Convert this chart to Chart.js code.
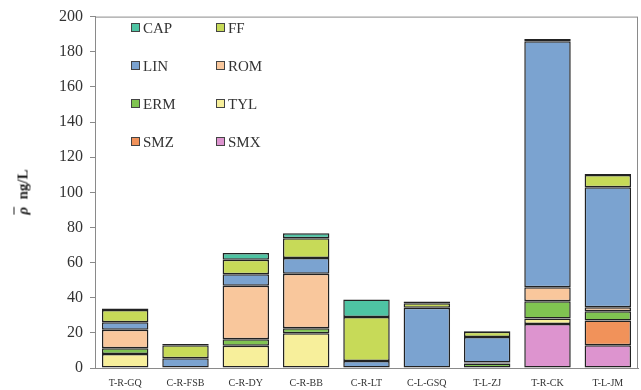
<!DOCTYPE html>
<html>
<head>
<meta charset="utf-8">
<script src="https://cdn.jsdelivr.net/npm/chart.js@4.4.1/dist/chart.umd.min.js"></script>
<style>
  html, body { margin: 0; padding: 0; background: #fff; }
  #wrap { position: relative; width: 641px; height: 390px; }
  #ytitle {
    position: absolute; left: 23px; top: 192px;
    transform: translate(-50%, -50%) rotate(-90deg);
    font-family: "Liberation Serif", serif; font-weight: bold; font-size: 15px;
    color: #222; white-space: nowrap;
  }
  #ytitle i { text-decoration: overline; }
  #legend { position: absolute; left: 131px; top: 20px; font-family: "Liberation Serif", serif; font-size: 15px; color: #333; }
  .item { position: absolute; white-space: nowrap; line-height: 16px; }
  .box { display: inline-block; width: 7px; height: 7px; border: 1px solid #444; margin-right: 3px; vertical-align: 1px; }
</style>
</head>
<body>
<div id="wrap">
  <canvas id="chart" width="641" height="390"></canvas>
  <div id="ytitle"><i>ρ</i>&nbsp; ng/L</div>
  <div id="legend"></div>
</div>
<script>
const sites = ['T-R-GQ', 'C-R-FSB', 'C-R-DY', 'C-R-BB', 'C-R-LT', 'C-L-GSQ', 'T-L-ZJ', 'T-R-CK', 'T-L-JM'];

// stacked bottom -> top
const SMX = [0, 0, 0, 0, 0, 0, 0, 25, 13];
const SMZ = [0, 0, 0, 0, 0, 0, 0, 0, 14];
const TYL = [8, 0, 12.7, 19.8, 0, 0, 0, 3.2, 0];
const ERM = [3.3, 0, 3.6, 2.8, 0, 0, 2.6, 9.8, 5.3];
const ROM = [10.5, 0, 30.5, 31, 0, 0, 0.6, 8, 2.3];
const LIN = [4.2, 5.5, 6.5, 9, 4, 34.3, 14.5, 140, 68.3];
const FF = [7, 7.5, 8.3, 11.3, 25, 2.5, 3, 0, 7];
const CAP = [0.8, 0.7, 3.8, 2.8, 10, 1, 0.3, 1.3, 0.5];

const yTicks = [0, 20, 40, 60, 80, 100, 120, 140, 160, 180, 200];

const series = [
  { label: 'SMX', data: SMX, color: '#dd94cf' },
  { label: 'SMZ', data: SMZ, color: '#f1925a' },
  { label: 'TYL', data: TYL, color: '#f7ef9b' },
  { label: 'ERM', data: ERM, color: '#80c451' },
  { label: 'ROM', data: ROM, color: '#f9c79c' },
  { label: 'LIN', data: LIN, color: '#7ba3d0' },
  { label: 'FF', data: FF, color: '#c7da58' },
  { label: 'CAP', data: CAP, color: '#4ec4a3' }
];

// legend order as in the figure: two columns
const legendOrder = ['CAP', 'FF', 'LIN', 'ROM', 'ERM', 'TYL', 'SMZ', 'SMX'];
const legend = document.getElementById('legend');
legendOrder.forEach((name, i) => {
  const s = series.find(d => d.label === name);
  const el = document.createElement('div');
  el.className = 'item';
  el.style.left = (i % 2) * 85 + 'px';
  el.style.top = Math.floor(i / 2) * 38 + 'px';
  el.innerHTML = '<span class="box" style="background:' + s.color + '"></span>' + name;
  legend.appendChild(el);
});

const frame = {
  id: 'frame',
  afterDatasetsDraw(chart) {
    const a = chart.chartArea;
    const ctx = chart.ctx;
    ctx.save();
    ctx.strokeStyle = '#8a8a8a';
    ctx.lineWidth = 1;
    ctx.strokeRect(a.left + 0.5, a.top + 0.5, a.right - a.left - 1, a.bottom - a.top);
    ctx.restore();
  }
};

new Chart(document.getElementById('chart'), {
  type: 'bar',
  data: {
    labels: sites,
    datasets: series.map(s => ({
      label: s.label,
      data: s.data.map(v => v === 0 ? null : v),
      backgroundColor: s.color,
      borderColor: '#222',
      borderWidth: 1.5,
      borderSkipped: false,
      categoryPercentage: 1,
      barPercentage: 0.77
    }))
  },
  options: {
    responsive: false,
    animation: false,
    layout: { padding: { left: 40, top: 8, right: 3, bottom: 0 } },
    plugins: { legend: { display: false }, tooltip: { enabled: false } },
    scales: {
      x: {
        stacked: true,
        grid: { display: false },
        border: { color: '#8a8a8a' },
        afterFit: axis => { axis.height = 22; },
        ticks: { color: '#333', padding: 1, font: { family: 'Liberation Serif', size: 10 } }
      },
      y: {
        stacked: true,
        min: 0, max: 200,
        afterBuildTicks: axis => { axis.ticks = yTicks.map(v => ({ value: v })); },
        afterFit: axis => { axis.width = 55; },
        grid: { drawOnChartArea: false, drawTicks: true, tickLength: 5, color: '#8a8a8a' },
        border: { color: '#8a8a8a' },
        ticks: { color: '#333', padding: 7, font: { family: 'Liberation Serif', size: 16 } }
      }
    }
  },
  plugins: [frame]
});
</script>
</body>
</html>
